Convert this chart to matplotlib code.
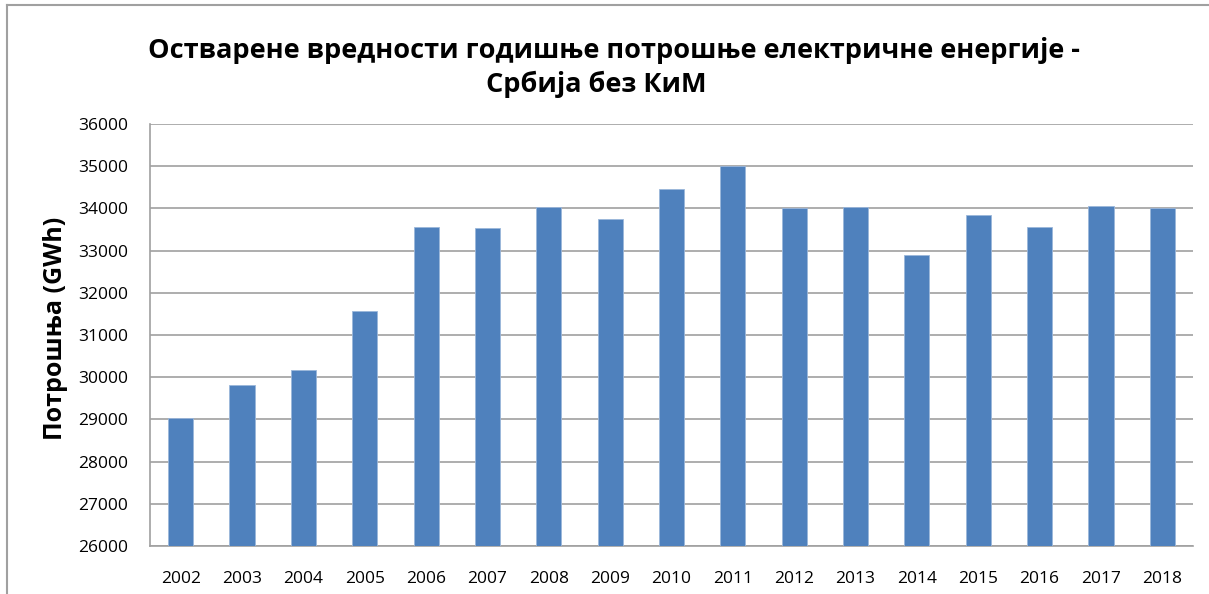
import numpy as np
import matplotlib
matplotlib.use('Agg')
import matplotlib.pyplot as plt
from matplotlib.lines import Line2D

years = ['2002', '2003', '2004', '2005', '2006', '2007', '2008', '2009', '2010',
         '2011', '2012', '2013', '2014', '2015', '2016', '2017', '2018']
consumption = [29030, 29810, 30170, 31560, 33570, 33530, 34030, 33750, 34460,
               35000, 34000, 34030, 32890, 33840, 33570, 34060, 34000]

title_1 = 'Остварене вредности годишње потрошње електричне енергије -'
title_2 = 'Србија без КиМ'
ylabel = 'Потрошња (GWh)'

plt.rcParams['font.family'] = ['Open Sans', 'DejaVu Sans']

W, H = 1209, 594
fig = plt.figure(figsize=(W / 100, H / 100), dpi=100)
ax = fig.add_axes([150 / W, 48 / H, 1043 / W, 422 / H])

x = np.arange(len(years))
ax.bar(x, consumption, width=0.41, color='#4F81BD', edgecolor='#9BB7DA', linewidth=0.6, zorder=3)

ax.set_ylim(26000, 36000)
ax.set_xlim(-0.5, len(years) - 0.5)
ax.set_yticks(np.arange(26000, 36001, 1000))
ax.set_xticks(x)
ax.set_xticklabels(years)
ax.tick_params(axis='both', length=0, labelsize=12.5, colors='#000000')
ax.tick_params(axis='y', pad=16)
ax.tick_params(axis='x', pad=18)
ax.grid(axis='y', color='#A0A0A0', linewidth=1.2, zorder=0)

for s in ['top', 'right']:
    ax.spines[s].set_visible(False)
for s in ['left', 'bottom']:
    ax.spines[s].set_color('#A0A0A0')
    ax.spines[s].set_linewidth(1.2)

ax.set_ylabel(ylabel, fontsize=18, fontweight='bold')
ax.yaxis.set_label_coords(-0.079, 0.515)

fig.text(614 / W, 1 - 58 / H, title_1, ha='center', va='baseline', fontsize=19.5, fontweight='bold')
fig.text(596 / W, 1 - 92 / H, title_2, ha='center', va='baseline', fontsize=19.5, fontweight='bold')

# outer chart frame (left and top edges visible)
fig.add_artist(Line2D([7 / W, 7 / W], [0, 1 - 5 / H], transform=fig.transFigure,
                      color='#A0A0A0', linewidth=1.5))
fig.add_artist(Line2D([7 / W, 1], [1 - 5 / H, 1 - 5 / H], transform=fig.transFigure,
                      color='#A0A0A0', linewidth=1.5))

plt.savefig('out.png', dpi=100)
